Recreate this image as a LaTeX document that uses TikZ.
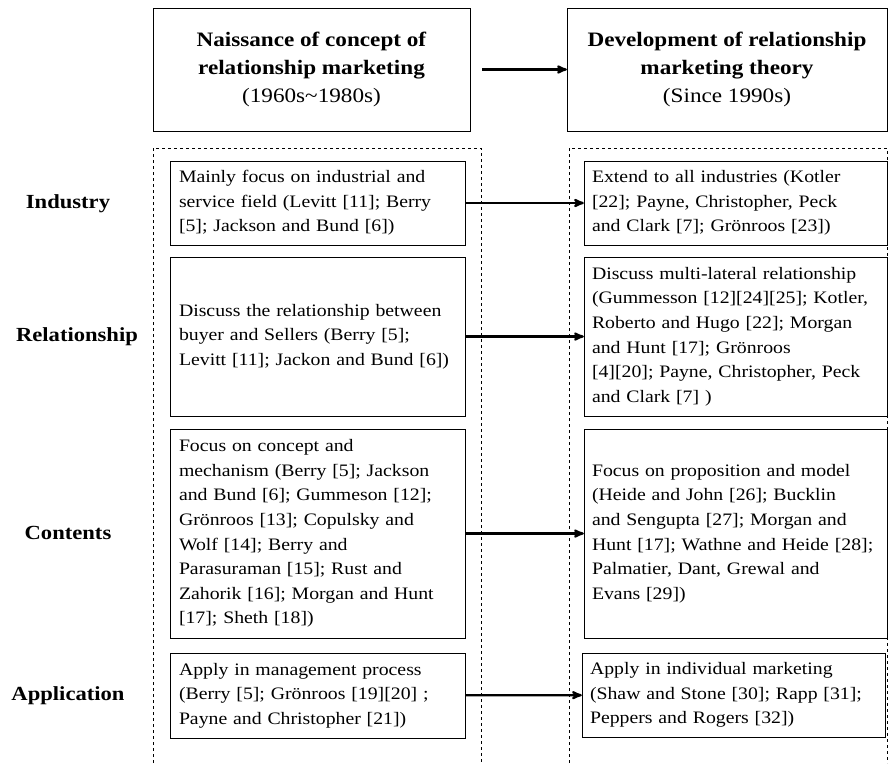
\documentclass[tikz,border=0pt]{standalone}
\usepackage{fontspec}
\setmainfont[FakeStretch=1.13]{Liberation Serif}
\usetikzlibrary{arrows}

\begin{document}
\begin{tikzpicture}[x=1pt,y=-1pt,>=stealth',thick,
  head node/.style={draw,thin,minimum width=317pt,minimum height=123pt,align=center,font=\fontsize{20.5}{28}\selectfont},
  lit node/.style={draw,thin,inner ysep=0pt,align=left,font=\fontsize{17.5}{24.6}\selectfont},
  left node/.style={lit node,inner xsep=9pt,text width=277pt},
  right node/.style={lit node,inner xsep=8pt,text width=287pt},
  row node/.style={font=\fontsize{20}{24}\selectfont\bfseries},
  frame/.style={thin,dashed},
  arr/.style={->,line width=2.2pt}]

  \useasboundingbox (0,0) rectangle (888,763);

  % headers
  \node[head node] (nais) at (311.5,69.5) {\textbf{Naissance of concept of}\\ \textbf{relationship marketing}\\ (1960s\textasciitilde1980s)};
  \node[head node, minimum width=320pt] (dev) at (727,69.5) {\textbf{Development of relationship}\\ \textbf{marketing theory}\\ (Since 1990s)};
  \draw[arr, shorten <=12pt] (nais) -- (dev);

  % dashed frames
  \draw[frame] (153,763) |- (481,148) -- (481,763);
  \draw[frame] (569,763) |- (887,148) -- (887,763);

  % row labels
  \node[row node] (tind) at (68,204) {Industry};
  \node[row node] (trel) at (77,337) {Relationship};
  \node[row node] (tcon) at (68,533) {Contents};
  \node[row node] (tapp) at (68,696) {Application};

  % left column
  \node[left node, minimum height=84pt] (li) at (317.5,203) {Mainly focus on industrial and\\ service field (Levitt [11]; Berry\\ {[5]}; Jackson and Bund [6])};
  \node[left node, minimum height=159pt] (lr) at (317.5,336.5) {Discuss the relationship between\\ buyer and Sellers (Berry [5];\\ Levitt [11]; Jackon and Bund [6])};
  \node[left node, minimum height=209pt] (lc) at (317.5,533.5) {Focus on concept and\\ mechanism (Berry [5]; Jackson\\ and Bund [6]; Gummeson [12];\\ Grönroos [13]; Copulsky and\\ Wolf [14]; Berry and\\ Parasuraman [15]; Rust and\\ Zahorik [16]; Morgan and Hunt\\ {[17]}; Sheth [18])};
  \node[left node, minimum height=85pt] (la) at (317.5,695.5) {Apply in management process\\ (Berry [5]; Grönroos [19][20] ;\\ Payne and Christopher [21])};

  % right column
  \node[right node, minimum height=84pt] (ri) at (735.5,203) {Extend to all industries (Kotler\\ {[22]}; Payne, Christopher, Peck\\ and Clark [7]; Grönroos [23])};
  \node[right node, minimum height=159pt] (rr) at (735.5,336.5) {Discuss multi-lateral relationship\\ (Gummesson [12][24][25]; Kotler,\\ Roberto and Hugo [22]; Morgan\\ and Hunt [17]; Grönroos\\ {[4]}[20]; Payne, Christopher, Peck\\ and Clark [7] )};
  \node[right node, minimum height=209pt] (rc) at (735.5,533.5) {Focus on proposition and model\\ (Heide and John [26]; Bucklin\\ and Sengupta [27]; Morgan and\\ Hunt [17]; Wathne and Heide [28];\\ Palmatier, Dant, Grewal and\\ Evans [29])};
  \node[right node, minimum height=84pt] (ra) at (733.5,695) {Apply in individual marketing\\ (Shaw and Stone [30]; Rapp [31];\\ Peppers and Rogers [32])};

  % connectors
  \path[arr]
    (li) edge (ri)
    (lr) edge (rr)
    (lc) edge (rc)
    (la) edge (ra);
\end{tikzpicture}
\end{document}
